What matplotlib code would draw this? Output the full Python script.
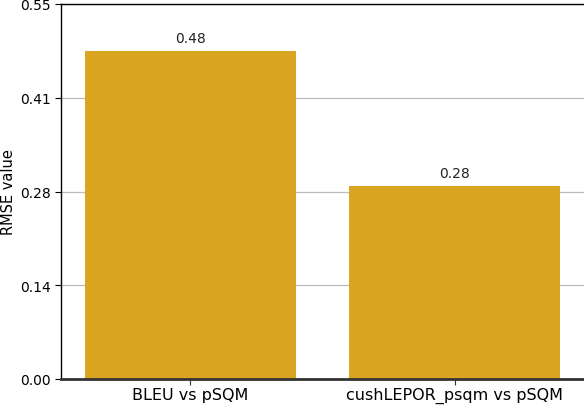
import matplotlib
matplotlib.use("Agg")
import matplotlib.pyplot as plt
import numpy as np

categories = ["BLEU vs pSQM", "cushLEPOR_psqm vs pSQM"]
rmse_values = [0.481, 0.283]
value_labels = ["0.48", "0.28"]
y_ticks = [0.0, 0.1375, 0.275, 0.4125, 0.55]
y_tick_labels = ["0.00", "0.14", "0.28", "0.41", "0.55"]

fig = plt.figure(figsize=(5.84, 4.06), dpi=100)
ax = fig.add_axes([61/584, 26/406, 523/584, 375/406])

x = np.arange(len(categories))
bars = ax.bar(x, rmse_values, width=0.8, color="#DAA520", zorder=2)
ax.set_xlim(-0.49, 1.49)
ax.set_ylim(0, 0.55)
ax.set_yticks(y_ticks)
ax.set_yticklabels(y_tick_labels, fontsize=10)
ax.set_xticks(x)
ax.set_xticklabels(categories, fontsize=11.5)
ax.yaxis.grid(True, color="#bbbbbb", linewidth=0.9, zorder=0)
ax.set_axisbelow(True)
ax.set_ylabel("RMSE value", fontsize=10.5, labelpad=3)

for b, lab in zip(bars, value_labels):
    ax.annotate(lab, (b.get_x() + b.get_width()/2, b.get_height()),
                xytext=(0, 4), textcoords="offset points",
                ha="center", va="bottom", fontsize=10, color="#222222")

ax.spines["right"].set_visible(False)
ax.spines["top"].set_linewidth(1.0)
ax.spines["left"].set_linewidth(1.0)
ax.spines["bottom"].set_linewidth(2.0)
ax.spines["bottom"].set_color("#333333")
ax.tick_params(axis="x", length=4, color="#333333", pad=1.5)
ax.tick_params(axis="y", length=4)

fig.savefig("out.png", dpi=100)
